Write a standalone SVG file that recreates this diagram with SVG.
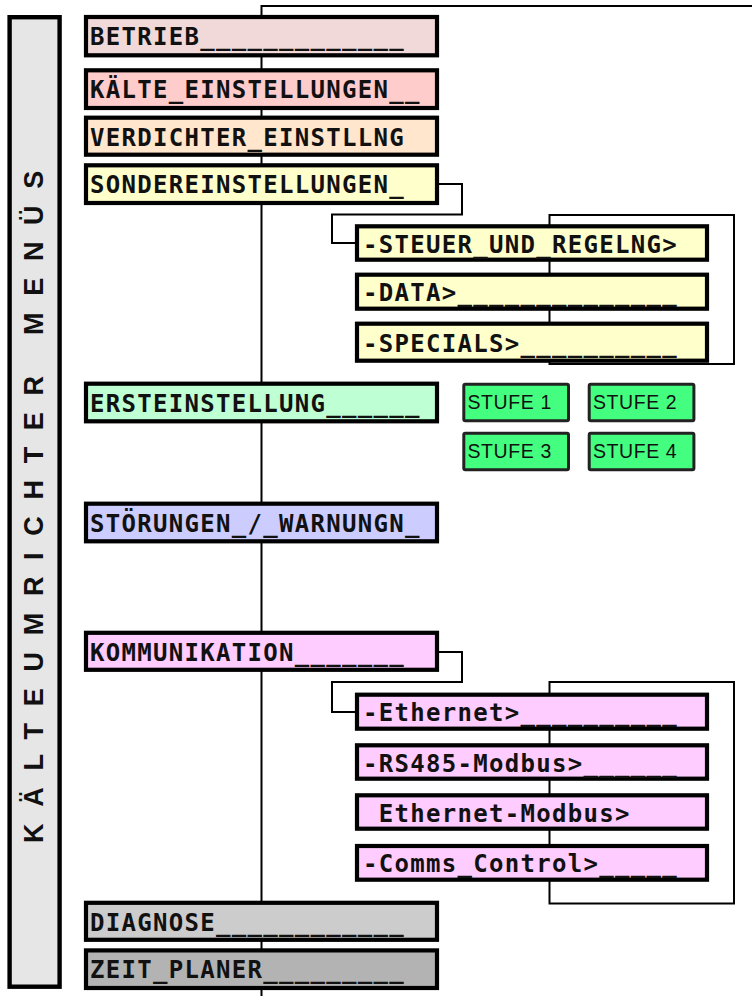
<svg xmlns="http://www.w3.org/2000/svg" width="752" height="996" viewBox="0 0 752 996">
<style>
.box{stroke:#000;stroke-width:4.2}
.t{font-family:"DejaVu Sans Mono","Liberation Mono",monospace;font-weight:bold;font-size:24px;letter-spacing:1.3px;fill:#111}
.line{fill:none;stroke:#000;stroke-width:2}
.stufe{fill:#44ff7f;stroke:#222;stroke-width:3}
.st{font-family:"Liberation Sans",Arial,sans-serif;font-size:19.5px;letter-spacing:0.6px;fill:#111}
</style>
<rect width="752" height="996" fill="#fff"/>
<g id="title">
<rect x="9.6" y="17.2" width="50" height="969.5" fill="#e6e6e6" stroke="#000" stroke-width="4.4"/>
<text transform="rotate(-90)" x="-843" y="43" font-family="'Liberation Sans',Arial,sans-serif" font-weight="bold" font-size="27" letter-spacing="16.7" fill="#111">KÄLTEUMRICHTER  MENÜS</text>
</g>
<g id="connectors">
<polyline class="line" points="752,6 261.5,6 261.5,996"/>
<polyline class="line" points="437,184 462,184 462,214.5 332,214.5 332,243 357,243"/>
<rect class="line" x="549.5" y="215" width="184.5" height="149"/>
<polyline class="line" points="438,652 462,652 462,682 332,682 332,712 357,712"/>
<rect class="line" x="549.5" y="682" width="184.5" height="221.5"/>
</g>
<g id="betrieb"><rect class="box" x="86" y="17" width="351" height="38.3" fill="#f2d9d9"/><text class="t" x="90" y="45">BETRIEB_____________</text></g>
<g id="kaelte"><rect class="box" x="86" y="70.3" width="351" height="37.7" fill="#ffcccc"/><text class="t" x="90" y="98.3">KÄLTE_EINSTELLUNGEN__</text></g>
<g id="verdichter"><rect class="box" x="86" y="117.7" width="351" height="37" fill="#ffe6cc"/><text class="t" x="90" y="145.5">VERDICHTER_EINSTLLNG</text></g>
<g id="sonder"><rect class="box" x="86" y="165.3" width="351" height="37.7" fill="#ffffcc"/><text class="t" x="90" y="193.3">SONDEREINSTELLUNGEN_</text></g>
<g id="steuer"><rect class="box" x="357" y="226.3" width="350" height="33.4" fill="#ffffcc"/><text class="t" x="363" y="252.7">-STEUER_UND_REGELNG&gt;</text></g>
<g id="data"><rect class="box" x="357" y="274.7" width="350" height="34" fill="#ffffcc"/><text class="t" x="363" y="301.3">-DATA&gt;______________</text></g>
<g id="specials"><rect class="box" x="357" y="323.7" width="350" height="37" fill="#ffffcc"/><text class="t" x="363" y="351.5">-SPECIALS&gt;__________</text></g>
<g id="erst"><rect class="box" x="86" y="383.7" width="351" height="37.6" fill="#bfffd4"/><text class="t" x="90" y="411.7">ERSTEINSTELLUNG______</text></g>
<g id="stufe1"><rect class="stufe" x="463.8" y="384.2" width="104.7" height="36.6" rx="1.5"/><text class="st" x="467.5" y="408.5">STUFE 1</text></g>
<g id="stufe2"><rect class="stufe" x="589.2" y="384.2" width="104.7" height="36.6" rx="1.5"/><text class="st" x="592.9" y="408.5">STUFE 2</text></g>
<g id="stufe3"><rect class="stufe" x="463.8" y="433.2" width="104.7" height="36.6" rx="1.5"/><text class="st" x="467.5" y="457.5">STUFE 3</text></g>
<g id="stufe4"><rect class="stufe" x="589.2" y="433.2" width="104.7" height="36.6" rx="1.5"/><text class="st" x="592.9" y="457.5">STUFE 4</text></g>
<g id="stoerungen"><rect class="box" x="86" y="503.7" width="351" height="37.6" fill="#ccccff"/><text class="t" x="90" y="531.7">STÖRUNGEN_/_WARNUNGN_</text></g>
<g id="komm"><rect class="box" x="86" y="632.8" width="351" height="37" fill="#ffccff"/><text class="t" x="90" y="660.5">KOMMUNIKATION_______</text></g>
<g id="ethernet"><rect class="box" x="357" y="694.7" width="350" height="34" fill="#ffccff"/><text class="t" x="363" y="721">-Ethernet&gt;__________</text></g>
<g id="rs485"><rect class="box" x="357" y="745.3" width="350" height="33.4" fill="#ffccff"/><text class="t" x="363" y="771.5">-RS485-Modbus&gt;______</text></g>
<g id="ethmodbus"><rect class="box" x="357" y="795.3" width="350" height="33.4" fill="#ffccff"/><text class="t" x="363" y="821.5" xml:space="preserve"> Ethernet-Modbus&gt;</text></g>
<g id="comms"><rect class="box" x="357" y="846" width="350" height="33.7" fill="#ffccff"/><text class="t" x="363" y="872.3">-Comms_Control&gt;_____</text></g>
<g id="diagnose"><rect class="box" x="86" y="902.8" width="351" height="37" fill="#cccccc"/><text class="t" x="90" y="930.5">DIAGNOSE____________</text></g>
<g id="zeit"><rect class="box" x="86" y="950.4" width="351" height="37.6" fill="#b3b3b3"/><text class="t" x="90" y="978.3">ZEIT_PLANER_________</text></g>
</svg>
